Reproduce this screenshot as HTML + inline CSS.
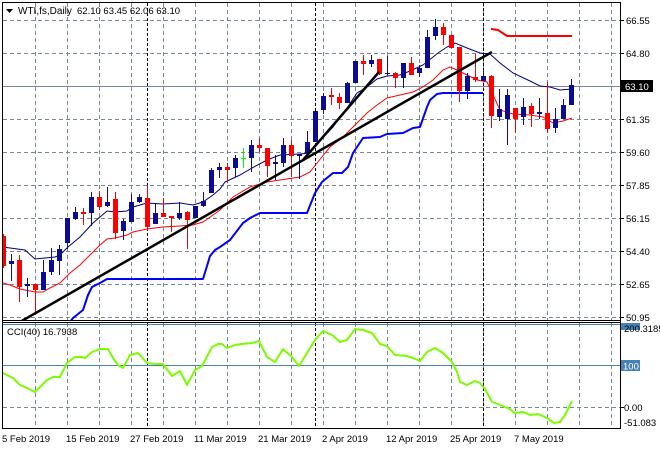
<!DOCTYPE html>
<html><head><meta charset="utf-8"><style>
html,body{margin:0;padding:0;background:#fff;}
svg{display:block;font-family:"Liberation Sans",sans-serif;}
</style></head><body>
<svg width="660" height="450" viewBox="0 0 660 450" xmlns="http://www.w3.org/2000/svg">
<defs>
<clipPath id="cm"><rect x="3" y="3" width="617" height="317"/></clipPath>
<clipPath id="cc"><rect x="3" y="323" width="617" height="105"/></clipPath>
</defs>
<rect x="0" y="0" width="660" height="450" fill="#fff"/>
<g stroke="#778899" stroke-width="1" stroke-dasharray="4,3" shape-rendering="crispEdges" fill="none">
<path d="M3 20.5H620M3 53.5H620M3 119.5H620M3 152.5H620M3 185.5H620M3 218.5H620M3 251.5H620M3 284.5H620M3 317.5H620M3 407.5H620"/>
<path d="M35.5 3V320M67.5 3V320M99.5 3V320M131.5 3V320M163.5 3V320M195.5 3V320M227.5 3V320M259.5 3V320M291.5 3V320M323.5 3V320M355.5 3V320M387.5 3V320M419.5 3V320M451.5 3V320M483.5 3V320M515.5 3V320M547.5 3V320M579.5 3V320M611.5 3V320"/>
<path d="M35.5 323V428M67.5 323V428M99.5 323V428M131.5 323V428M163.5 323V428M195.5 323V428M227.5 323V428M259.5 323V428M291.5 323V428M323.5 323V428M355.5 323V428M387.5 323V428M419.5 323V428M451.5 323V428M483.5 323V428M515.5 323V428M547.5 323V428M579.5 323V428M611.5 323V428"/>
</g>
<path d="M3 86.5H620" stroke="#778899" stroke-width="1" shape-rendering="crispEdges"/>
<path d="M147.5 3V320M315.5 3V320M483.5 3V320M147.5 323V428M315.5 323V428M483.5 323V428" stroke="#000" stroke-width="1" stroke-dasharray="3,2" shape-rendering="crispEdges"/>
<g clip-path="url(#cm)">
<polyline fill="none" stroke="#000080" stroke-width="1" points="3,247 10,248 25,250 35,259 45,258 55,257 60,255 68,247 80,237 93,223 107,211 115,212 127,211 133,207 147,203 163,204 180,203 193,205 203,202 213,195 220,189 225,182 240,175 252,168 267,160 280,155 300,154 310,153 318,143 333,127 347,108 357,93 367,87 377,79 387,76 400,75 410,71 423,65 438,53 447,47 455,43 467,48 480,53 490,54 500,63 513,73 530,81 540,86 550,87 560,90 572,89"/>
<polyline fill="none" stroke="#ff0000" stroke-width="1" points="3,283 10,285 20,289 35,292 43,292 50,288 60,283 70,273 80,265 93,252 100,245 107,239 115,238 127,235 133,232 147,229 163,227 180,226 193,225 203,222 213,215 220,210 233,197 250,187 267,182 280,180 300,177 310,172 317,163 330,147 343,137 357,123 367,113 377,105 387,98 400,95 413,92 423,87 433,80 443,70 450,67 457,70 467,75 477,80 487,82 493,95 500,110 513,114 530,115 543,117 553,123 563,121 572,118"/>
<polyline fill="none" stroke="#0000ff" stroke-width="2" stroke-linejoin="round" points="70,322 73,318 83,310 88,295 92,287 100,283 107,279 203,279 207,266 210,256 215,250 220,247 230,240 243,223 250,218 260,213 307,213 315,193 322,182 333,173 342,173 348,167 353,153 363,138 380,137 387,134 403,133 413,128 420,127 427,107 430,100 437,94 443,93 483,93"/>
<polyline fill="none" stroke="#ff0000" stroke-width="2" points="491,29 498,30 507,36 572,36"/>
<g shape-rendering="crispEdges">
<path stroke="#ff0000" stroke-width="1" fill="none" d="M3.5 234v34M19.5 255v47M35.5 284v29M83.5 208v17M99.5 191v19M115.5 192v47M147.5 185v45M163.5 198v19M171.5 216v16M187.5 211v38M227.5 163v20M259.5 138v14M267.5 148v29M291.5 140v37M331.5 88v17M339.5 93v16M363.5 55v20M379.5 59v16M395.5 72v16M411.5 57v18M443.5 23v22M451.5 35v13M459.5 47v55M475.5 54v28M491.5 75v53M515.5 108v25M531.5 103v24M547.5 82v51"/>
<path fill="#ff0000" d="M1 236h5v30h-5zM17 260h5v27h-5zM33 284h5v6h-5zM81 212h5v2h-5zM97 197h5v10h-5zM113 199h5v34h-5zM145 198h5v29h-5zM161 213h5v4h-5zM169 216h5v2h-5zM185 212h5v8h-5zM225 167h5v3h-5zM257 145h5v3h-5zM265 148h5v18h-5zM289 145h5v11h-5zM329 95h5v2h-5zM337 97h5v6h-5zM361 61h5v3h-5zM377 59h5v15h-5zM393 73h5v5h-5zM409 63h5v12h-5zM441 27h5v8h-5zM449 35h5v13h-5zM457 47h5v44h-5zM473 77h5v3h-5zM489 76h5v40h-5zM513 108h5v11h-5zM529 106h5v8h-5zM545 113h5v16h-5z"/>
<path stroke="#0c0c92" stroke-width="1" fill="none" d="M11.5 254v27M27.5 278v19M43.5 260v30M51.5 248v27M59.5 245v30M67.5 218v31M75.5 207v13M91.5 192v34M107.5 187v20M123.5 219v21M131.5 194v28M139.5 194v9M155.5 203v21M179.5 202v18M195.5 206v12M203.5 192v15M211.5 168v25M219.5 163v15M235.5 155v22M251.5 140v32M275.5 155v25M283.5 138v29M299.5 154v25M307.5 131v23M315.5 111v31M323.5 93v21M347.5 82v21M355.5 61v22M371.5 55v12M387.5 56v19M403.5 63v25M419.5 65v12M427.5 30v38M435.5 19v21M467.5 73v26M483.5 70v11M499.5 89v32M507.5 89v56M523.5 98v27M539.5 98v21M555.5 108v25M563.5 99v20M571.5 79v26"/>
<path fill="#0c0c92" d="M9 261h5v3h-5zM25 284h5v2h-5zM41 272h5v18h-5zM49 260h5v12h-5zM57 249h5v12h-5zM65 218h5v25h-5zM73 212h5v7h-5zM89 197h5v16h-5zM105 202h5v4h-5zM121 221h5v10h-5zM129 202h5v20h-5zM137 197h5v5h-5zM153 213h5v11h-5zM177 213h5v5h-5zM193 206h5v12h-5zM201 201h5v5h-5zM209 170h5v23h-5zM217 167h5v3h-5zM233 158h5v10h-5zM249 145h5v13h-5zM273 162h5v2h-5zM281 145h5v18h-5zM297 154h5v2h-5zM305 142h5v11h-5zM313 111h5v31h-5zM321 96h5v14h-5zM345 83h5v20h-5zM353 61h5v22h-5zM369 60h5v4h-5zM385 73h5v1h-5zM401 63h5v15h-5zM417 68h5v5h-5zM425 37h5v31h-5zM433 27h5v9h-5zM465 76h5v15h-5zM481 76h5v5h-5zM497 109h5v8h-5zM505 95h5v24h-5zM521 107h5v10h-5zM537 112h5v2h-5zM553 119h5v9h-5zM561 105h5v14h-5zM569 85h5v20h-5z"/>
<path stroke="#00ff00" stroke-width="1" fill="none" d="M243.5 148v20"/>
<path fill="#00ff00" d="M241 158h5v1h-5z"/>
</g>
<line x1="20" y1="322" x2="492" y2="52" stroke="#000" stroke-width="2.5"/>
<line x1="303" y1="160" x2="379" y2="72" stroke="#000" stroke-width="2.5"/>
</g>
<g clip-path="url(#cc)">
<path d="M3 324.5H620M3 365.5H620" stroke="#4682b4" stroke-width="1" shape-rendering="crispEdges"/>
<polyline fill="none" stroke="#7cfc00" stroke-width="2" stroke-linejoin="round" points="2,372 3,373 13,378 20,385 27,388 35,392 40,387 47,380 53,377 60,377 67,363 75,357 82,357 85,358 92,352 100,349 108,349 113,358 118,365 123,368 130,355 138,353 147,363 155,364 163,364 172,376 180,371 187,385 195,370 202,366 212,347 218,344 222,344 227,348 235,345 242,344 252,343 259,341 267,357 275,362 283,349 292,357 299,366 307,353 315,340 323,331 332,335 340,342 347,340 355,329 363,330 372,333 380,344 387,346 395,355 407,356 413,358 420,361 427,352 435,348 443,353 452,362 457,372 460,382 467,385 475,381 480,383 485,389 492,402 500,405 508,408 515,413 523,412 530,415 538,414 547,418 554,423 560,422 565,415 572,401"/>
</g>
<g stroke="#000" stroke-width="1" fill="none" shape-rendering="crispEdges">
<path d="M2.5 2.5H620.5V428.5H2.5Z"/>
<path d="M2.5 320.5H620.5M2.5 322.5H620.5"/>
<path d="M620 20.5H624M620 53.5H624M620 86.5H624M620 119.5H624M620 152.5H624M620 185.5H624M620 218.5H624M620 251.5H624M620 284.5H624M620 317.5H624M620 407.5H624M620 365.5H624"/>
</g>
<polygon points="6,9 13,9 9.5,13" fill="#000"/>
<text x="18" y="14" font-size="10" fill="#000">WTI,fs,Daily</text>
<text x="77" y="14" font-size="9.5" fill="#000">62.10 63.45 62.06 63.10</text>
<text x="7" y="335" font-size="9.5" fill="#000">CCI(40) 16.7938</text>
<g font-size="9.5" fill="#000">
<text x="626" y="24">66.55</text>
<text x="626" y="57">64.80</text>
<text x="626" y="123">61.35</text>
<text x="626" y="156">59.60</text>
<text x="626" y="189">57.85</text>
<text x="626" y="222">56.15</text>
<text x="626" y="255">54.40</text>
<text x="626" y="288">52.65</text>
<text x="626" y="321">50.95</text>
</g>
<rect x="621" y="80" width="32" height="12" fill="#000"/>
<text x="625" y="90" font-size="9.5" fill="#fff">63.10</text>
<rect x="621" y="323" width="19" height="7" fill="#4682b4"/>
<text x="624" y="332" font-size="9.5" fill="#000">200.3185</text>
<rect x="621" y="360" width="19" height="11" fill="#4682b4"/>
<text x="623" y="369.5" font-size="9.5" fill="#fff">100</text>
<text x="624" y="411" font-size="9.5" fill="#000">0.00</text>
<text x="624" y="426" font-size="9.5" fill="#000">-51.083</text>
<g font-size="9.5" fill="#000">
<text x="2" y="442">5 Feb 2019</text>
<text x="66" y="442">15 Feb 2019</text>
<text x="130" y="442">27 Feb 2019</text>
<text x="194" y="442">11 Mar 2019</text>
<text x="258" y="442">21 Mar 2019</text>
<text x="322" y="442">2 Apr 2019</text>
<text x="386" y="442">12 Apr 2019</text>
<text x="450" y="442">25 Apr 2019</text>
<text x="514" y="442">7 May 2019</text>
</g>
</svg>
</body></html>
